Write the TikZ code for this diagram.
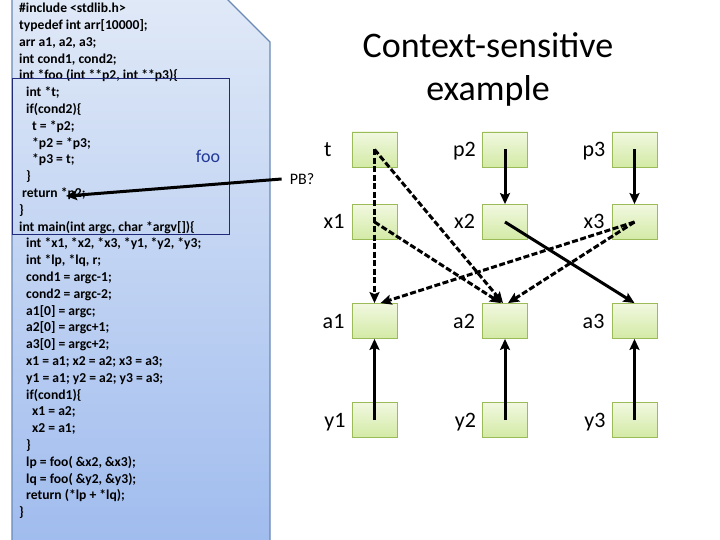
\documentclass[tikz,border=0pt]{standalone}
\usepackage{fontspec}
\setmainfont{Carlito}
\usetikzlibrary{arrows.meta,positioning}
\definecolor{panetop}{RGB}{224,233,247}
\definecolor{panebot}{RGB}{160,188,238}
\definecolor{paneline}{RGB}{106,138,181}
\definecolor{fooline}{RGB}{31,42,122}
\definecolor{footext}{RGB}{32,56,150}
\definecolor{cellline}{RGB}{155,187,89}
\definecolor{celltop}{RGB}{241,248,224}
\definecolor{cellbot}{RGB}{211,234,165}
\begin{document}
\begin{tikzpicture}[x=1pt,y=-1pt,
  codetext/.style={font=\fontsize{13.6}{16.8}\selectfont\bfseries,align=left,inner sep=0pt},
  cell/.style={draw=cellline,line width=0.8pt,top color=celltop,bottom color=cellbot,
    minimum width=45pt,minimum height=35pt,inner sep=0pt},
  varname/.style={font=\fontsize{22}{24}\selectfont,inner sep=0pt,text height=16pt,text depth=2pt},
  ptr/.style={line width=3pt,-{Stealth[length=11pt,width=10pt,inset=2pt]}},
  mayptr/.style={ptr,dash pattern=on 6pt off 2.5pt}]
  \fill[white,use as bounding box] (0,0) rectangle (720,540);
  % source listing
  \draw[top color=panetop,bottom color=panebot,draw=paneline,line width=1.2pt]
    (12,-5) -- (223,-5) -- (270,42) -- (270,545) -- (12,545) -- cycle;
  \node[codetext,anchor=north west] (listing) at (19,3) {%
    \#include <stdlib.h>\\
    typedef int arr[10000];\\
    arr a1, a2, a3;\\
    int cond1, cond2;\\
    int *foo (int **p2, int **p3)\{\\
    \hspace*{7pt}int *t;\\
    \hspace*{7pt}if(cond2)\{\\
    \hspace*{13pt}t = *p2;\\
    \hspace*{13pt}*p2 = *p3;\\
    \hspace*{13pt}*p3 = t;\\
    \hspace*{7pt}\}\\
    \hspace*{3pt}return *p2;\\
    \}\\
    int main(int argc, char *argv[])\{\\
    \hspace*{7pt}int *x1, *x2, *x3, *y1, *y2, *y3;\\
    \hspace*{7pt}int *lp, *lq, r;\\
    \hspace*{7pt}cond1 = argc-1;\\
    \hspace*{7pt}cond2 = argc-2;\\
    \hspace*{7pt}a1[0] = argc;\\
    \hspace*{7pt}a2[0] = argc+1;\\
    \hspace*{7pt}a3[0] = argc+2;\\
    \hspace*{7pt}x1 = a1; x2 = a2; x3 = a3;\\
    \hspace*{7pt}y1 = a1; y2 = a2; y3 = a3;\\
    \hspace*{7pt}if(cond1)\{\\
    \hspace*{13pt}x1 = a2;\\
    \hspace*{13pt}x2 = a1;\\
    \hspace*{7pt}\}\\
    \hspace*{7pt}lp = foo( \&x2, \&x3);\\
    \hspace*{7pt}lq = foo( \&y2, \&y3);\\
    \hspace*{7pt}return (*lp + *lq);\\
    \}};
  \draw[fooline,line width=1pt] (12,79) rectangle (229,234);
  \node[text=footext,font=\fontsize{18}{20}\selectfont] (foo) at (208,156) {foo};
  \coordinate (retp2) at (66,196);
  % title
  \node[font=\fontsize{36}{43}\selectfont,align=center] (title) at (488,69) {Context-sensitive\\example};
  % points-to cells
  \node[cell] (t) at (374.5,149.5) {};
  \node[cell] (p2) at (505,149.5) {};
  \node[cell] (p3) at (634.5,149.5) {};
  \node[cell] (x1) at (374.5,222) {};
  \node[cell] (x2) at (505,222) {};
  \node[cell] (x3) at (634.5,222) {};
  \node[cell] (a1) at (374.5,321) {};
  \node[cell] (a2) at (505,321) {};
  \node[cell] (a3) at (634.5,321) {};
  \node[cell] (y1) at (374.5,420) {};
  \node[cell] (y2) at (505,420) {};
  \node[cell] (y3) at (634.5,420) {};
  \node[varname,left=20pt of t] (tname) {t};
  \node[varname,left=6pt of p2] (p2name) {p2};
  \node[varname,left=6pt of p3] (p3name) {p3};
  \node[varname,left=7pt of x1] (x1name) {x1};
  \node[varname,left=7pt of x2] (x2name) {x2};
  \node[varname,left=7pt of x3] (x3name) {x3};
  \node[varname,left=7pt of a1] (a1name) {a1};
  \node[varname,left=7pt of a2] (a2name) {a2};
  \node[varname,left=7pt of a3] (a3name) {a3};
  \node[varname,left=6pt of y1] (y1name) {y1};
  \node[varname,left=6pt of y2] (y2name) {y2};
  \node[varname,left=6pt of y3] (y3name) {y3};
  \node[font=\fontsize{16}{18}\selectfont,inner xsep=8pt,inner ysep=0pt] (pb) at (302,179) {PB?};
  % edges
  \draw[ptr] (p2.center) -- (x2.north);
  \draw[ptr] (p3.center) -- (x3.north);
  \draw[ptr] (y1.center) -- (a1.south);
  \draw[ptr] (y2.center) -- (a2.south);
  \draw[ptr] (y3.center) -- (a3.south);
  \draw[ptr] (x2.center) -- (a3.north);
  \draw[mayptr] (t.center) -- (a1.north);
  \draw[mayptr] (t.center) -- ([xshift=-2pt]a2.north);
  \draw[mayptr] (x1.center) -- ([xshift=-4pt]a2.north);
  \draw[mayptr] (x3.center) -- ([xshift=6pt]a1.north);
  \draw[mayptr] (x3.center) -- ([xshift=3pt]a2.north);
  \draw[ptr] (pb.west) -- (retp2);
\end{tikzpicture}
\end{document}
